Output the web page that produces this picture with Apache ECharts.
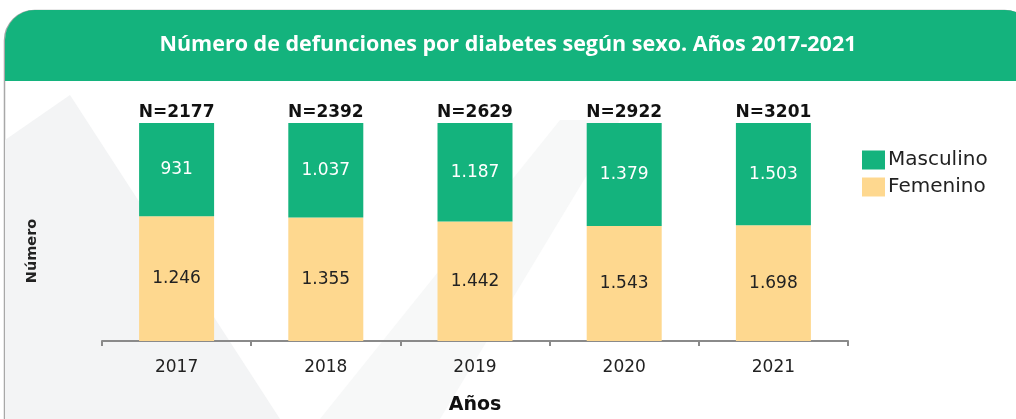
<!DOCTYPE html>
<html>
<head>
<meta charset="utf-8">
<script src="https://cdn.jsdelivr.net/npm/echarts@6/dist/echarts.min.js"></script>
<style>
  html, body { margin: 0; padding: 0; background: #ffffff; }
  #chart { width: 1016px; height: 419px; }
</style>
</head>
<body>
<div id="chart"></div>
<script>
const anios = ["2017", "2018", "2019", "2020", "2021"];
const masculino = [931, 1037, 1187, 1379, 1503];
const femenino = [1246, 1355, 1442, 1543, 1698];
const totales = [2177, 2392, 2629, 2922, 3201];

const verde = "#14b37d";
const naranja = "#fed88f";

// las barras son de 100%, cada segmento es la parte del total
function partes(valores) {
  return valores.map((v, i) => ({ value: v / totales[i] * 100, real: v }));
}

function formatoMiles(v) {
  return v.toLocaleString("de-DE");
}

const chart = echarts.init(document.getElementById("chart"));

chart.setOption({
  animation: false,
  backgroundColor: "#ffffff",
  graphic: [
    {
      type: "rect",
      shape: { x: 4.5, y: 10.5, width: 1030, height: 420, r: [30, 30, 0, 0] },
      style: { fill: "#ffffff", stroke: "#a8a8a8", lineWidth: 1.5 },
      z: -10
    },
    {
      type: "polygon",
      shape: { points: [[5, 140], [70, 95], [280, 419], [5, 419]] },
      style: { fill: "#f3f4f5" },
      z: -9
    },
    {
      type: "polygon",
      shape: { points: [[320, 419], [560, 120], [620, 120], [440, 419]] },
      style: { fill: "#f7f8f8" },
      z: -9
    },
    {
      type: "rect",
      shape: { x: 5, y: 10, width: 1030, height: 71, r: [30, 30, 0, 0] },
      style: { fill: verde },
      z: -5
    },
    {
      type: "text",
      left: "center",
      top: 34,
      style: {
        text: "Número de defunciones por diabetes según sexo. Años 2017-2021",
        fill: "#ffffff",
        font: "bold 21.5px 'Open Sans', sans-serif"
      }
    },
    {
      type: "text",
      x: 32,
      y: 251,
      rotation: Math.PI / 2,
      style: {
        text: "Número",
        fill: "#222222",
        font: "bold 14.5px 'DejaVu Sans', sans-serif",
        align: "center",
        verticalAlign: "middle"
      }
    }
  ],
  legend: {
    orient: "vertical",
    left: 857,
    top: 145,
    icon: "rect",
    itemWidth: 23,
    itemHeight: 19,
    itemGap: 7,
    textStyle: { fontSize: 20, color: "#222222", fontFamily: "DejaVu Sans", padding: [0, 0, 0, -2] },
    data: ["Masculino", "Femenino"]
  },
  grid: {
    left: 102,
    right: 168,
    top: 123,
    bottom: 78,
    outerBoundsMode: "none"
  },
  xAxis: {
    type: "category",
    data: anios,
    name: "Años",
    nameLocation: "middle",
    nameGap: 55,
    nameTextStyle: { fontSize: 19, fontWeight: "bold", color: "#111111", fontFamily: "DejaVu Sans" },
    axisLine: { lineStyle: { color: "#8a8a8a", width: 2 } },
    axisTick: { show: true, length: 5, lineStyle: { color: "#8a8a8a", width: 2 } },
    axisLabel: { fontSize: 17, color: "#222222", fontFamily: "DejaVu Sans", margin: 18 }
  },
  yAxis: {
    type: "value",
    min: 0,
    max: 100,
    axisLine: { show: false },
    axisTick: { show: false },
    axisLabel: { show: false },
    splitLine: { show: false }
  },
  series: [
    {
      name: "Femenino",
      type: "bar",
      stack: "total",
      barWidth: 75,
      itemStyle: { color: naranja },
      label: {
        show: true,
        position: "inside",
        color: "#222222",
        fontSize: 17,
        fontFamily: "DejaVu Sans",
        formatter: p => formatoMiles(p.data.real)
      },
      data: partes(femenino)
    },
    {
      name: "Masculino",
      type: "bar",
      stack: "total",
      barWidth: 75,
      itemStyle: { color: verde },
      label: {
        show: true,
        position: "inside",
        color: "#ffffff",
        fontSize: 17,
        fontFamily: "DejaVu Sans",
        formatter: p => formatoMiles(p.data.real)
      },
      data: partes(masculino)
    },
    {
      name: "N",
      type: "bar",
      stack: "total",
      barWidth: 75,
      itemStyle: { color: "transparent" },
      label: {
        show: true,
        position: "insideBottom",
        distance: 2,
        color: "#111111",
        fontSize: 17,
        fontWeight: "bold",
        fontFamily: "DejaVu Sans",
        formatter: p => "N=" + totales[p.dataIndex]
      },
      data: totales.map(() => 0.0001)
    }
  ]
});
</script>
</body>
</html>
